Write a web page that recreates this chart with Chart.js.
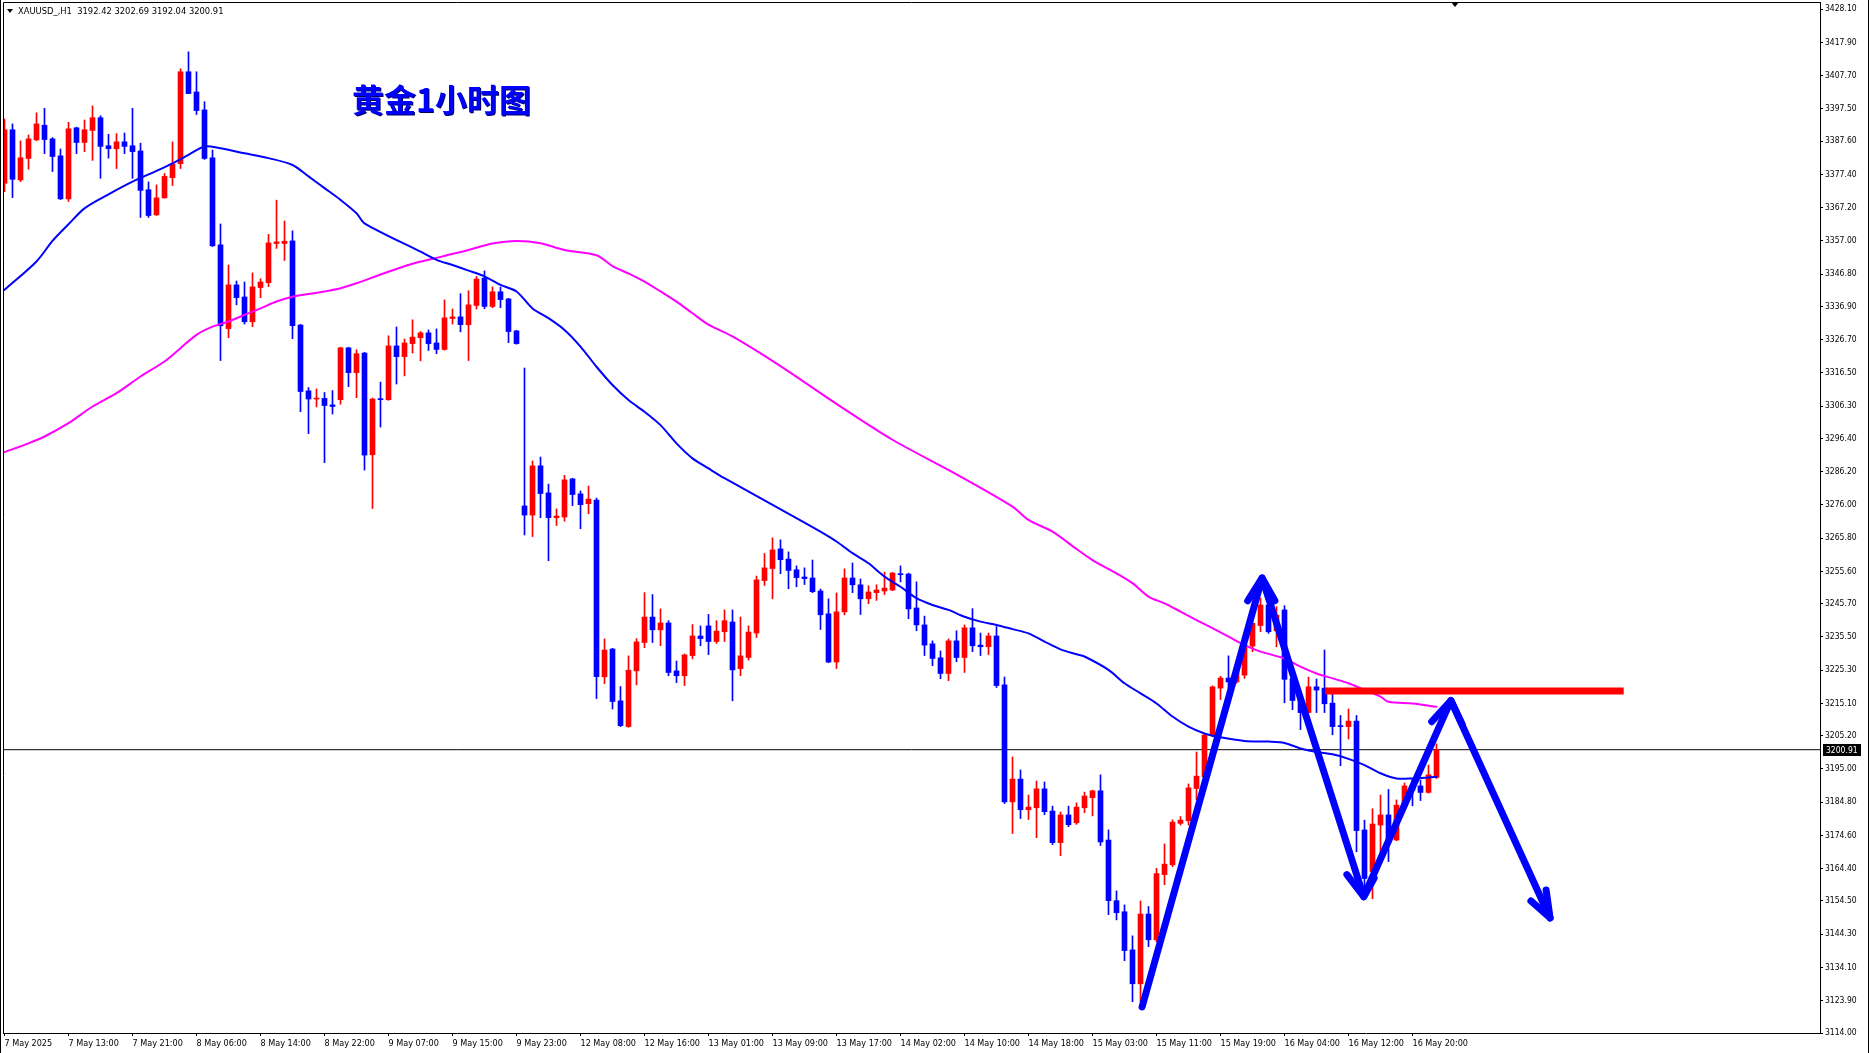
<!DOCTYPE html>
<html>
<head>
<meta charset="utf-8">
<script src="https://cdn.jsdelivr.net/npm/chart.js@4.4.1/dist/chart.umd.min.js"></script>
<style>
html,body{margin:0;padding:0;background:#fff;}
#wrap{position:relative;width:1869px;height:1053px;overflow:hidden;background:#fff;}
#c{position:absolute;left:0;top:0;}
.hdr{position:absolute;left:18px;top:5px;font:9.3px "DejaVu Sans Condensed","DejaVu Sans",sans-serif;color:#000;white-space:pre;line-height:11px;}
.tri{position:absolute;width:0;height:0;border-left:3px solid transparent;border-right:3px solid transparent;border-top:4px solid #000;}
.ttl{position:absolute;left:352px;top:82px;font:bold 32px "Noto Sans CJK SC",sans-serif;line-height:32px;color:#0000ff;text-shadow:1px 1px 0 #000060;white-space:nowrap;}
.vl{position:absolute;top:0;width:1px;height:1053px;background:#000;}
</style>
</head>
<body>
<div id="wrap">
<canvas id="c" width="1869" height="1053"></canvas>
<div class="vl" style="left:0"></div>
<div class="vl" style="left:1868px"></div>
<div class="tri" style="left:7px;top:9px"></div>
<div class="hdr">XAUUSD_,H1  3192.42 3202.69 3192.04 3200.91</div>
<div class="tri" style="left:1451px;top:2px;border-left-width:4px;border-right-width:4px;border-top-width:5px"></div>
<div class="ttl">黄金1小时图</div>
</div>
<script>
// hourly candles, 7 May 05:00 .. 16 May 23:00
const open=[3374.7,3391.1,3375.7,3382.3,3388.0,3392.5,3388.3,3383.1,3369.9,3391.7,
3387.2,3390.9,3394.8,3386.2,3385.3,3387.4,3386.2,3384.6,3372.7,3365.0,
3370.2,3376.4,3380.7,3408.9,3402.7,3397.2,3382.5,3355.8,3330.1,3343.5,
3339.8,3332.2,3342.7,3344.2,3356.2,3356.2,3357.0,3331.2,3311.0,3308.5,
3308.7,3306.7,3308.3,3324.2,3316.6,3322.6,3291.4,3308.5,3308.3,3324.8,
3321.5,3325.5,3327.3,3328.8,3325.7,3323.7,3333.2,3333.7,3331.3,3337.2,
3345.6,3336.9,3341.4,3339.2,3329.4,3275.7,3272.9,3288.0,3279.7,3272.1,
3272.3,3284.0,3279.4,3276.4,3277.5,3223.3,3231.8,3215.9,3208.0,3225.1,
3233.8,3241.6,3237.7,3239.8,3225.1,3223.6,3229.8,3235.8,3238.9,3234.1,
3237.1,3240.1,3225.8,3229.2,3236.7,3252.8,3256.5,3262.5,3259.4,3256.1,
3253.9,3253.6,3249.6,3242.6,3227.8,3243.2,3253.6,3251.5,3247.2,3249.1,
3249.6,3249.9,3254.9,3254.8,3244.4,3239.2,3233.4,3229.1,3224.3,3234.3,
3229.2,3238.3,3233.0,3232.5,3235.8,3220.8,3184.9,3191.9,3182.5,3183.1,
3188.9,3182.1,3172.4,3180.9,3178.5,3183.1,3186.2,3188.3,3173.2,3154.6,
3151.2,3139.5,3129.1,3150.5,3142.6,3162.6,3165.6,3178.3,3179.1,3189.0,
3192.6,3205.4,3219.8,3222.9,3221.7,3223.8,3232.7,3239.0,3245.3,3237.4,
3243.8,3222.7,3216.2,3212.3,3220.2,3219.8,3215.2,3208.3,3208.0,3209.7,
3176.3,3163.5,3177.8,3180.9,3173.2,3183.6,3189.8,3189.8,3187.8,3192.42];
const high=[3394.4,3392.9,3387.7,3389.5,3396.3,3397.7,3388.7,3385.2,3393.4,3391.9,
3394.1,3398.4,3395.4,3389.7,3389.9,3390.1,3397.7,3387.0,3375.1,3374.2,
3377.7,3387.4,3409.8,3415.0,3408.9,3399.7,3384.9,3362.2,3349.6,3344.7,
3344.4,3347.2,3345.4,3359.0,3369.5,3363.1,3360.1,3331.4,3312.0,3311.6,
3310.5,3311.1,3324.4,3324.4,3323.6,3322.8,3308.8,3313.7,3327.9,3330.6,
3326.9,3332.8,3329.2,3329.7,3330.0,3338.9,3336.1,3340.8,3341.7,3346.1,
3347.8,3342.9,3342.9,3339.4,3329.6,3318.0,3289.5,3290.7,3282.4,3274.8,
3285.1,3284.2,3280.3,3281.8,3278.1,3234.9,3232.0,3220.3,3229.7,3235.0,
3249.1,3248.5,3244.1,3240.5,3228.1,3230.3,3239.3,3238.9,3242.4,3240.5,
3243.8,3243.8,3241.6,3238.9,3254.2,3261.1,3265.9,3265.3,3261.6,3257.3,
3256.7,3259.1,3250.2,3247.2,3249.0,3256.4,3258.2,3253.3,3251.2,3251.5,
3255.4,3255.3,3257.3,3255.1,3252.4,3241.9,3234.3,3231.2,3234.9,3237.4,
3239.2,3244.2,3236.7,3236.7,3238.7,3223.2,3198.7,3194.7,3187.0,3191.3,
3191.0,3183.6,3181.8,3183.6,3184.6,3187.9,3188.5,3193.2,3176.3,3157.6,
3153.3,3143.8,3154.5,3152.8,3164.5,3172.0,3179.4,3180.4,3190.4,3200.2,
3205.9,3220.5,3223.4,3229.7,3227.2,3234.1,3241.7,3247.4,3248.9,3244.8,
3245.1,3224.9,3218.9,3223.2,3222.6,3231.5,3218.2,3211.4,3213.4,3211.4,
3179.3,3182.8,3187.0,3188.7,3185.5,3190.7,3192.1,3191.6,3196.2,3202.69];
const low=[3372.1,3370.3,3375.2,3379.0,3387.7,3383.8,3378.3,3369.7,3369.1,3383.8,
3384.4,3381.7,3376.2,3382.4,3379.2,3383.8,3376.2,3364.2,3364.2,3364.8,
3370.1,3374.0,3379.2,3402.2,3395.8,3382.0,3355.3,3320.3,3327.3,3337.4,
3331.5,3330.7,3339.6,3343.0,3354.7,3351.0,3327.0,3304.6,3297.9,3306.1,
3289.0,3303.9,3306.9,3312.3,3308.9,3286.7,3274.9,3299.9,3308.1,3313.1,
3315.6,3322.6,3320.2,3323.4,3322.4,3323.5,3331.5,3329.1,3320.3,3336.1,
3336.2,3336.5,3336.5,3325.8,3325.3,3266.8,3266.3,3272.1,3258.9,3269.7,
3271.0,3275.8,3268.7,3273.3,3216.6,3221.2,3213.4,3208.0,3207.8,3220.8,
3232.2,3233.8,3232.8,3223.6,3221.5,3220.6,3228.8,3232.8,3230.1,3233.5,
3234.1,3215.9,3223.6,3228.4,3235.3,3251.3,3247.2,3254.9,3250.3,3250.9,
3251.6,3249.1,3237.8,3227.6,3225.8,3242.3,3249.1,3242.4,3245.7,3246.7,
3248.5,3249.7,3252.4,3241.1,3237.4,3229.8,3226.7,3222.7,3222.1,3227.9,
3224.6,3231.0,3229.8,3230.1,3220.0,3184.4,3175.2,3179.8,3179.5,3173.9,
3181.0,3171.8,3168.4,3177.3,3178.0,3181.6,3180.6,3171.5,3150.3,3148.7,
3136.2,3123.6,3123.6,3140.5,3142.0,3159.5,3165.0,3177.8,3177.8,3185.5,
3191.6,3204.9,3216.3,3219.7,3221.3,3222.8,3231.0,3237.1,3236.6,3232.5,
3215.3,3213.2,3207.1,3212.1,3212.3,3212.3,3205.5,3196.0,3204.2,3169.6,
3156.8,3155.2,3169.6,3166.6,3173.0,3183.4,3183.7,3185.3,3187.6,3192.04];
const close=[3391.1,3375.9,3382.5,3388.3,3392.9,3388.1,3382.9,3369.9,3391.4,3387.2,
3391.1,3394.8,3386.0,3385.3,3387.4,3386.0,3384.4,3372.5,3364.8,3370.2,
3376.8,3380.6,3408.9,3402.2,3397.0,3382.3,3355.5,3331.0,3343.5,3339.6,
3332.2,3342.9,3344.4,3356.4,3356.7,3356.9,3331.0,3310.8,3308.5,3308.8,
3306.5,3306.2,3324.2,3316.6,3322.4,3291.3,3308.5,3308.3,3324.8,3321.5,
3325.7,3327.5,3328.8,3325.5,3323.7,3333.4,3333.7,3331.3,3337.4,3345.3,
3336.9,3341.4,3339.0,3329.2,3325.5,3272.9,3288.0,3279.5,3272.1,3272.6,
3283.7,3279.2,3276.1,3277.8,3223.3,3231.5,3215.7,3208.3,3225.3,3234.0,
3241.6,3237.7,3239.8,3224.6,3223.6,3230.0,3235.8,3235.0,3234.1,3237.3,
3240.5,3225.4,3229.7,3237.0,3253.0,3256.7,3262.2,3259.2,3255.9,3253.7,
3253.4,3249.4,3242.3,3227.8,3243.2,3253.6,3251.5,3247.2,3249.3,3249.9,
3250.5,3255.1,3254.6,3244.1,3239.2,3233.0,3228.9,3224.3,3234.3,3229.2,
3238.3,3232.8,3232.5,3235.8,3220.6,3184.9,3191.9,3182.5,3183.3,3188.9,
3181.9,3172.4,3180.9,3177.9,3183.3,3186.7,3188.3,3172.6,3154.6,3150.9,
3139.3,3129.1,3150.5,3142.6,3162.9,3165.8,3178.7,3179.3,3189.2,3192.8,
3205.4,3220.2,3222.9,3221.7,3225.7,3233.0,3239.7,3245.3,3237.1,3242.2,
3222.5,3216.0,3212.3,3220.2,3219.2,3215.0,3208.0,3208.0,3209.7,3176.1,
3161.4,3178.1,3180.9,3173.2,3183.9,3189.8,3188.5,3187.8,3193.2,3200.91];

// moving averages (bar index, price)
const fastX=[0,4,6,8,10,13,16,19,21,23,25,27,30,33,36,38,40,42,44,45,
52,54,56,58,60,62,64,66,68,70,72,74,76,78,80,82,84,86,88,90,
100,102,104,106,108,110,112,114,116,118,120,122,124,126,128,130,132,134,135,
138,140,142,144,146,148,150,152,155,158,160,162,164,166,168,170,172,174,176,178,179];
const fastY=[3342.0,3350.7,3357.0,3362.1,3367.0,3371.3,3375.2,3378.5,3380.8,3383.4,3386.0,3385.4,3383.9,3382.4,3380.3,3376.8,3373.2,3369.6,3365.5,3362.4,
3353.7,3351.2,3349.6,3347.9,3346.1,3343.5,3341.5,3336.3,3333.3,3329.7,3324.6,3318.4,3312.8,3308.2,3304.6,3300.5,3294.9,3290.3,3287.2,3284.2,
3270.6,3267.8,3264.8,3261.2,3258.1,3254.0,3250.9,3247.4,3245.3,3243.8,3241.7,3240.2,3239.2,3237.9,3236.6,3234.1,3231.7,3230.2,3229.5,
3225.4,3221.3,3218.2,3215.1,3211.1,3208.0,3205.9,3204.7,3203.6,3203.4,3203.0,3201.3,3200.2,3199.5,3198.1,3196.2,3193.7,3192.1,3192.1,3192.4,3192.6];
const slowX=[0,3,5,8,11,14,17,20,22,24,26,28,30,32,34,36,38,40,42,44,
47,49,51,53,55,58,61,64,67,70,74,76,78,80,82,84,86,88,91,
97,104,111,119,126,128,131,134,136,139,141,143,145,147,149,151,153,155,157,160,
162,164,166,168,170,172,173,176,179];
const slowY=[3292.2,3294.9,3297.0,3301.1,3306.2,3310.3,3315.4,3320.0,3324.1,3328.2,3330.7,3332.3,3334.3,3336.3,3338.4,3339.9,3340.7,3341.5,3342.5,3344.0,
3346.7,3348.4,3350.0,3351.2,3352.4,3354.2,3356.2,3357.0,3356.3,3354.2,3352.6,3349.3,3347.0,3344.5,3341.5,3338.4,3334.8,3331.3,3327.7,
3318.6,3307.0,3296.0,3285.4,3275.5,3271.4,3267.8,3262.5,3259.1,3255.0,3252.0,3247.9,3245.8,3243.3,3240.7,3238.2,3235.6,3233.0,3231.0,3228.9,
3226.4,3224.3,3222.8,3221.3,3219.2,3217.2,3215.6,3215.1,3214.1];

const xLabels=['7 May 2025','7 May 13:00','7 May 21:00','8 May 06:00','8 May 14:00','8 May 22:00',
'9 May 07:00','9 May 15:00','9 May 23:00','12 May 08:00','12 May 16:00','13 May 01:00',
'13 May 09:00','13 May 17:00','14 May 02:00','14 May 10:00','14 May 18:00','15 May 03:00',
'15 May 11:00','15 May 19:00','16 May 04:00','16 May 12:00','16 May 20:00'];
const yTicks=[3428.10,3417.90,3407.70,3397.50,3387.60,3377.40,3367.20,3357.00,3346.80,3336.90,
3326.70,3316.50,3306.30,3296.40,3286.20,3276.00,3265.80,3255.60,3245.70,3235.50,3225.30,
3215.10,3205.20,3195.00,3184.80,3174.60,3164.40,3154.50,3144.30,3134.10,3123.90,3114.00];

// hand drawn marks
const lastPrice=3200.91;
const resistX=[165.1,202.4], resistY=[3218.9,3218.9];
const arrowX=[142.2,157.2,169.9,180.8,193.2];
const arrowY=[3122.0,3253.6,3155.8,3216.0,3149.3];
const headB={x:[155.4,157.2,158.8],y:[3246.6,3253.6,3246.6]};
const headC={x:[167.8,169.9,171.2],y:[3162.6,3155.8,3161.5]};
const headD={x:[178.4,180.8,182.2],y:[3209.5,3216.0,3208.8]};
const headE={x:[190.8,193.2,192.7],y:[3154.5,3149.3,3157.9]};

const FONT='"DejaVu Sans Condensed","DejaVu Sans",sans-serif';
const pts=(xs,ys)=>xs.map((x,i)=>({x,y:ys[i]}));
const col=close.map((c,i)=>c>open[i]?'#ff0000':'#0000ff');
const line=(data,color,w)=>({type:'line',data,borderColor:color,borderWidth:w,pointRadius:0,fill:false,
  borderCapStyle:'round',borderJoinStyle:'round',tension:0});

const frame={
  id:'frame',
  afterDraw(chart){
    const {ctx,chartArea:a,scales:{y}}=chart;
    ctx.save();
    ctx.strokeStyle='#000';ctx.lineWidth=1;
    ctx.beginPath();
    ctx.moveTo(a.left+0.5,a.bottom);ctx.lineTo(a.left+0.5,a.top+0.5);ctx.lineTo(a.right,a.top+0.5);
    ctx.stroke();
    const py=Math.round(y.getPixelForValue(lastPrice));
    ctx.fillStyle='#000';
    ctx.fillRect(a.right+3,py-6,38,12);
    ctx.fillStyle='#fff';
    ctx.font='8.5px '+FONT;
    ctx.textBaseline='middle';
    ctx.fillText(lastPrice.toFixed(2),a.right+6,py+0.5);
    ctx.restore();
  }
};

new Chart(document.getElementById('c'),{
  type:'bar',
  data:{datasets:[
    line(pts(arrowX,arrowY),'#0000ff',7),
    line(pts(headB.x,headB.y),'#0000ff',7),
    line(pts(headC.x,headC.y),'#0000ff',7),
    line(pts(headD.x,headD.y),'#0000ff',7),
    line(pts(headE.x,headE.y),'#0000ff',7),
    {...line(pts(resistX,resistY),'#ff0000',7),borderCapStyle:'butt'},
    {...line(pts(fastX,fastY),'#0000ff',2),tension:0.3},
    {...line(pts(slowX,slowY),'#ff00ff',2),tension:0.3},
    {type:'bar',data:open.map((o,i)=>({x:i,y:[o,close[i]]})),backgroundColor:col,borderWidth:0,
      barThickness:5,minBarLength:1,grouped:false},
    {type:'bar',data:high.map((h,i)=>({x:i,y:[low[i],h]})),backgroundColor:col,borderWidth:0,
      barThickness:1,minBarLength:1,grouped:false},
    {...line([{x:-0.1875,y:lastPrice},{x:226.9375,y:lastPrice}],'#000',1),borderCapStyle:'butt'}
  ]},
  options:{
    responsive:false,animation:false,devicePixelRatio:1,
    layout:{padding:{left:3,top:2,right:0,bottom:0}},
    plugins:{legend:{display:false},tooltip:{enabled:false}},
    scales:{
      x:{type:'linear',min:-0.1875,max:226.9375,offset:false,bounds:'data',
        grid:{drawOnChartArea:false,drawTicks:true,tickLength:3,color:'#000',offset:false},
        border:{display:true,color:'#000'},
        afterBuildTicks:s=>{s.ticks=xLabels.map((_,i)=>({value:i*8}));},
        afterFit:s=>{s.height=20;s.paddingLeft=0;s.paddingRight=0;},
        ticks:{autoSkip:false,maxRotation:0,minRotation:0,align:'start',padding:2,color:'#000',
          font:{family:FONT,size:9},callback:(v,i)=>xLabels[i]}
      },
      y:{type:'linear',position:'right',min:3114,max:3430.3,bounds:'data',
        grid:{drawOnChartArea:false,drawTicks:true,tickLength:3,color:'#000'},
        border:{display:true,color:'#000'},
        afterBuildTicks:s=>{s.ticks=yTicks.map(v=>({value:v}));},
        afterFit:s=>{s.width=49;s.paddingTop=0;s.paddingBottom=0;},
        ticks:{autoSkip:false,padding:2,color:'#000',font:{family:FONT,size:8.5},
          callback:v=>v.toFixed(2)}
      }
    }
  },
  plugins:[frame]
});
</script>
</body>
</html>
